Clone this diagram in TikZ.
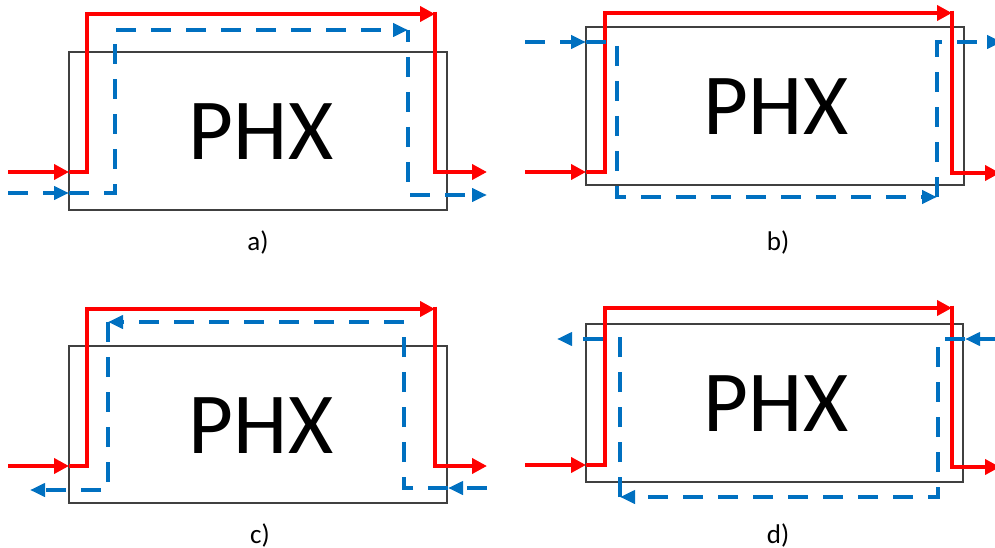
\documentclass[tikz,border=0pt]{standalone}
\usepackage{fontspec}
\setmainfont{Carlito}
\usetikzlibrary{arrows.meta}
\definecolor{hot}{HTML}{FF0000}
\definecolor{cold}{HTML}{0070C0}
\begin{document}
\begin{tikzpicture}[x=1pt,y=-1pt,
  phxbox/.style={draw=black!75,line width=1.1pt,fill=none},
  phxtext/.style={font=\fontsize{87}{96}\selectfont,inner sep=0pt,anchor=center},
  lbl/.style={font=\fontsize{27}{32}\selectfont,inner sep=0pt,anchor=center},
  hotflow/.style={draw=hot,line width=4.8pt,-{Triangle[length=15pt,width=15pt]}},
  coldflow/.style={draw=cold,line width=4.2pt,dash pattern=on 20pt off 15pt,-{Triangle[length=15pt,width=13pt]}},
  ]
\useasboundingbox (0,0) rectangle (995,548);
\begin{scope}
\clip (0,0) rectangle (995,548);
% ---------- panel a ----------
\draw[phxbox] (69,52) rectangle (447,210);
\node[phxtext] (pa) at (261,132) {PHX};
\node[lbl] (la) at (258,242) {a)};
\coordinate (a1) at (8,172); \coordinate (a2) at (69,172);
\coordinate (a3) at (435,14); \coordinate (a4) at (487,172);
\draw[hotflow] (a1) -- (a2);
\draw[hotflow] (a2) -- (87,172) -- (87,14) -- (a3);
\draw[hotflow,shorten <=-2.4pt] (a3) -- (435,172) -- (a4);
\coordinate (a5) at (8,193); \coordinate (a6) at (69,193);
\coordinate (a7) at (408,30); \coordinate (a8) at (487,195);
\draw[coldflow] (a5) -- (a6);
\draw[coldflow] (a6) -- (115,193) -- (115,30) -- (a7);
\draw[coldflow,dash phase=8pt] (a7) -- (408,195) -- (a8);
% ---------- panel b ----------
\draw[phxbox] (586,27) rectangle (964,185);
\node[phxtext] (pb) at (776,107) {PHX};
\node[lbl] (lb) at (778,242) {b)};
\coordinate (b1) at (525,172); \coordinate (b2) at (586,172);
\coordinate (b3) at (952,13); \coordinate (b4) at (1000,173);
\draw[hotflow] (b1) -- (b2);
\draw[hotflow] (b2) -- (605,172) -- (605,13) -- (b3);
\draw[hotflow,shorten <=-2.4pt] (b3) -- (952,173) -- (b4);
\coordinate (b5) at (525,42); \coordinate (b6) at (586,42);
\coordinate (b7) at (937,197); \coordinate (b8) at (1002,42);
\draw[coldflow] (b5) -- (b6);
\draw[coldflow] (b6) -- (617,42) -- (617,197) -- (b7);
\draw[coldflow] (b7) -- (937,42) -- (b8);
% ---------- panel c ----------
\draw[phxbox] (69,346) rectangle (447,503);
\node[phxtext] (pc) at (261,426) {PHX};
\node[lbl] (lc) at (260,535) {c)};
\coordinate (c1) at (8,466); \coordinate (c2) at (69,466);
\coordinate (c3) at (435,309); \coordinate (c4) at (487,466);
\draw[hotflow] (c1) -- (c2);
\draw[hotflow] (c2) -- (87,466) -- (87,309) -- (c3);
\draw[hotflow,shorten <=-2.4pt] (c3) -- (435,466) -- (c4);
\coordinate (c5) at (487,488); \coordinate (c6) at (448,488);
\coordinate (c7) at (108,322); \coordinate (c8) at (30,490);
\draw[coldflow] (c5) -- (c6);
\draw[coldflow] (c6) -- (404,488) -- (404,322) -- (c7);
\draw[coldflow] (c7) -- (108,490) -- (c8);
% ---------- panel d ----------
\draw[phxbox] (586,324) rectangle (963,482);
\node[phxtext] (pd) at (776,404) {PHX};
\node[lbl] (ld) at (778,535) {d)};
\coordinate (d1) at (525,465); \coordinate (d2) at (586,465);
\coordinate (d3) at (952,308); \coordinate (d4) at (1000,467);
\draw[hotflow] (d1) -- (d2);
\draw[hotflow] (d2) -- (605,465) -- (605,308) -- (d3);
\draw[hotflow,shorten <=-2.4pt] (d3) -- (952,467) -- (d4);
\coordinate (d5) at (1000,339); \coordinate (d6) at (965,339);
\coordinate (d7) at (620,497); \coordinate (d8) at (557,339);
\draw[coldflow] (d5) -- (d6);
\draw[coldflow] (d6) -- (938,339) -- (938,497) -- (d7);
\draw[coldflow] (d7) -- (620,339) -- (d8);
\end{scope}
\end{tikzpicture}
\end{document}
